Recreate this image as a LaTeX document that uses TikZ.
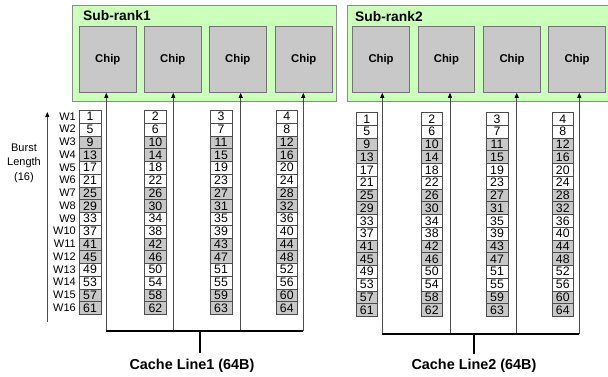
\documentclass[tikz,border=0pt]{standalone}
\usepackage{fontspec}
\setmainfont{Liberation Sans}
\usetikzlibrary{arrows.meta}
\definecolor{rankgreen}{HTML}{CCFFBB}
\definecolor{chipgray}{HTML}{C8C8C8}

\begin{document}
\begin{tikzpicture}[
  x=1pt, y=-1pt,
  rankbox/.style={draw=black!45, fill=rankgreen, line width=0.8pt, anchor=north west, inner sep=0pt},
  ranklabel/.style={anchor=west, inner sep=0pt, font=\fontsize{13.8}{14}\selectfont\bfseries},
  chipbox/.style={draw=black!55, fill=chipgray, line width=0.8pt, anchor=north west, inner sep=0pt,
    minimum width=56.7pt, minimum height=66pt, font=\fontsize{11.3}{12}\selectfont\bfseries},
  wcell/.style={draw=black!70, fill=#1, line width=0.6pt, anchor=north west, inner sep=0pt,
    minimum width=21.5pt, minimum height=12.75pt, font=\fontsize{12.3}{12}\selectfont},
  wlabel/.style={anchor=east, inner sep=0pt, font=\fontsize{11}{11}\selectfont},
  feed/.style={draw=black!70, line width=0.7pt, -{Triangle[length=5pt, width=4pt, color=black]}},
  bus/.style={draw=black, line width=2.4pt},
  stem/.style={draw=black, line width=2pt},
  clabel/.style={font=\fontsize{14.4}{15}\selectfont\bfseries}
]
  \useasboundingbox (0,0) rectangle (608,376);

  % --- SUB-RANK 1 ---
  \node[rankbox, minimum width=264pt, minimum height=96pt] (ranka) at (72,5) {};
  \node[ranklabel] (rlbla) at (83,16) {Sub-rank1};
  \foreach \k/\kx in {1/79,2/144,3/209,4/275}
    \node[chipbox] (chipa\k) at (\kx,26) {Chip};

  % --- SUB-RANK 2 ---
  \node[rankbox, minimum width=260.8pt, minimum height=96pt] (rankb) at (346.7,5) {};
  \node[ranklabel] (rlblb) at (355,17) {Sub-rank2};
  \foreach \k/\kx in {1/352.3,2/417.7,3/483.3,4/548.3}
    \node[chipbox] (chipb\k) at (\kx,26) {Chip};

  % --- BURST WORDS ---
  \foreach \c/\cx in {1/79,2/144.3,3/210,4/275.7} {
    \foreach \r in {1,...,16} {
      \pgfmathtruncatemacro{\num}{4*(\r-1)+\c}
      \pgfmathtruncatemacro{\shade}{mod(\r-1,4)>1}
      \ifnum\shade=1 \def\cf{chipgray}\else\def\cf{white}\fi
      \node[wcell=\cf] (wa-\c-\r) at ({\cx},{110+12.75*(\r-1)}) {\num};
    }
  }
  \foreach \c/\cx in {1/355.7,2/420.7,3/486,4/551.7} {
    \foreach \r in {1,...,16} {
      \pgfmathtruncatemacro{\num}{4*(\r-1)+\c}
      \pgfmathtruncatemacro{\shade}{mod(\r-1,4)>1}
      \ifnum\shade=1 \def\cf{chipgray}\else\def\cf{white}\fi
      \node[wcell=\cf] (wb-\c-\r) at ({\cx},{112.3+12.73*(\r-1)}) {\num};
    }
  }
  \foreach \r in {1,...,16}
    \node[wlabel] (w\r) at (76,{116.4+12.75*(\r-1)}) {W\r};

  % burst length arrow
  \coordinate (blbot) at (47.3,322);
  \coordinate (bltop) at (47.3,112);
  \draw[feed] (blbot) -- (bltop);
  \node[align=center, font=\fontsize{11}{14.5}\selectfont] (burst) at (24,163) {Burst\\Length\\(16)};

  % --- CACHE LINE 1 ---
  \foreach \k/\fx in {1/106.3,2/173.3,3/240.7,4/303.3} {
    \coordinate (fa\k) at (\fx,331);
    \draw[feed] (fa\k) -- (fa\k |- chipa\k.south);
  }
  \draw[bus] (fa1) -- (fa4);
  \coordinate (stema) at (200,331);
  \coordinate (stemaend) at (200,352.7);
  \draw[stem] (stema) -- (stemaend);
  \node[clabel] (cla) at (192,366) {Cache Line1 (64B)};

  % --- CACHE LINE 2 ---
  \foreach \k/\fx in {1/382.3,2/450,3/516.7,4/579.3} {
    \coordinate (fb\k) at (\fx,334);
    \draw[feed] (fb\k) -- (fb\k |- chipb\k.south);
  }
  \draw[bus] (fb1) -- (fb4);
  \coordinate (stemb) at (473.7,334);
  \coordinate (stembend) at (473.7,354);
  \draw[stem] (stemb) -- (stembend);
  \node[clabel] (clb) at (474,366) {Cache Line2 (64B)};
\end{tikzpicture}
\end{document}
